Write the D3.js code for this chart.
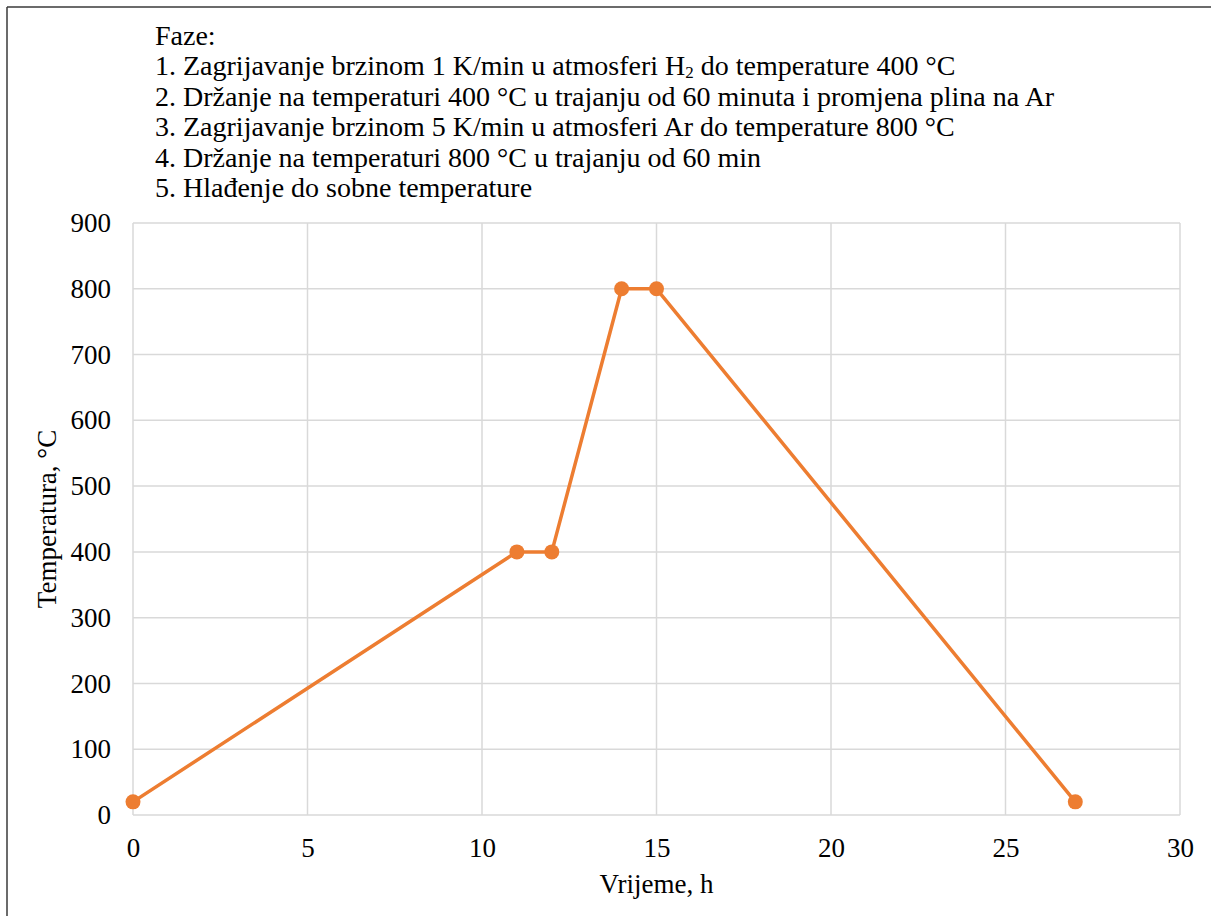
<!DOCTYPE html>
<html>
<head>
<meta charset="utf-8">
<script src="https://cdn.jsdelivr.net/npm/d3@7"></script>
<style>
  body { margin: 0; background: #fff; }
  svg text { font-family: "Liberation Serif", "Times New Roman", serif; fill: #000; }
</style>
</head>
<body>
<div class="chart"></div>
<script>
// time (h) and temperature (°C) for each point
const hours = [0, 11, 12, 14, 15, 27];
const temps = [20, 400, 400, 800, 800, 20];

const xTicks = [0, 5, 10, 15, 20, 25, 30];
const yTicks = [0, 100, 200, 300, 400, 500, 600, 700, 800, 900];

const phaseLines = [
  "Faze:",
  "1. Zagrijavanje brzinom 1 K/min u atmosferi H|2| do temperature 400 °C",
  "2. Držanje na temperaturi 400 °C u trajanju od 60 minuta i promjena plina na Ar",
  "3. Zagrijavanje brzinom 5 K/min u atmosferi Ar do temperature 800 °C",
  "4. Držanje na temperaturi 800 °C u trajanju od 60 min",
  "5. Hlađenje do sobne temperature"
];

const w = 1211, h = 916;
const plotL = 133, plotR = 1180, plotT = 223, plotB = 815;

const svg = d3.select(".chart").append("svg")
  .attr("width", w).attr("height", h);

/* frame lines at top and left */
svg.append("line").attr("x1", 7).attr("x2", w).attr("y1", 7).attr("y2", 7)
  .attr("stroke", "#3a3a3a").attr("stroke-width", 1.5);
svg.append("line").attr("x1", 7).attr("x2", 7).attr("y1", 7).attr("y2", h)
  .attr("stroke", "#3a3a3a").attr("stroke-width", 1.5);

const xScale = d3.scaleLinear().domain([0, 30]).range([plotL, plotR]);
const yScale = d3.scaleLinear().domain([0, 900]).range([plotB, plotT]);

/* grid */
svg.append("g").selectAll("line").data(xTicks).enter().append("line")
  .attr("x1", d => xScale(d)).attr("x2", d => xScale(d))
  .attr("y1", plotT).attr("y2", plotB)
  .attr("stroke", "#d9d9d9").attr("stroke-width", 1.5);
svg.append("g").selectAll("line").data(yTicks).enter().append("line")
  .attr("x1", plotL).attr("x2", plotR)
  .attr("y1", d => yScale(d)).attr("y2", d => yScale(d))
  .attr("stroke", "#d9d9d9").attr("stroke-width", 1.5);

/* axes (labels only) */
const xAxis = d3.axisBottom(xScale).tickValues(xTicks).tickSize(0).tickPadding(30);
const yAxis = d3.axisLeft(yScale).tickValues(yTicks).tickSize(0).tickPadding(22);

const gx = svg.append("g").attr("transform", "translate(0," + plotB + ")").call(xAxis);
const gy = svg.append("g").attr("transform", "translate(" + plotL + ",0)").call(yAxis);
[gx, gy].forEach(g => {
  g.select(".domain").remove();
  g.attr("font-family", null);
  g.selectAll("text").attr("font-size", 27).attr("fill", "#000");
});
gx.selectAll("text").attr("dy", "0.45em");

/* axis titles */
svg.append("text").attr("x", (plotL + plotR) / 2).attr("y", 893)
  .attr("text-anchor", "middle").attr("font-size", 27).text("Vrijeme, h");
svg.append("text")
  .attr("transform", "translate(56," + ((plotT + plotB) / 2) + ") rotate(-90)")
  .attr("text-anchor", "middle").attr("font-size", 27).text("Temperatura, °C");

/* phases text block */
const info = svg.append("g");
phaseLines.forEach((line, i) => {
  const t = info.append("text").attr("x", 155).attr("y", 45 + i * 30.4).attr("font-size", 28);
  line.split("|").forEach((part, j) => {
    const ts = t.append("tspan").text(part);
    if (j % 2 === 1) ts.attr("font-size", 17).attr("dy", 3);
    else if (j > 0) ts.attr("dy", -3);
  });
});

/* series */
const pts = hours.map((d, i) => [d, temps[i]]);
const lineGen = d3.line().x(d => xScale(d[0])).y(d => yScale(d[1]));
svg.append("path").datum(pts).attr("d", lineGen)
  .attr("fill", "none").attr("stroke", "#ed7d31").attr("stroke-width", 3.5)
  .attr("stroke-linejoin", "round");
svg.append("g").selectAll("circle").data(pts).enter().append("circle")
  .attr("cx", d => xScale(d[0])).attr("cy", d => yScale(d[1]))
  .attr("r", 7.5).attr("fill", "#ed7d31");
</script>
</body>
</html>
